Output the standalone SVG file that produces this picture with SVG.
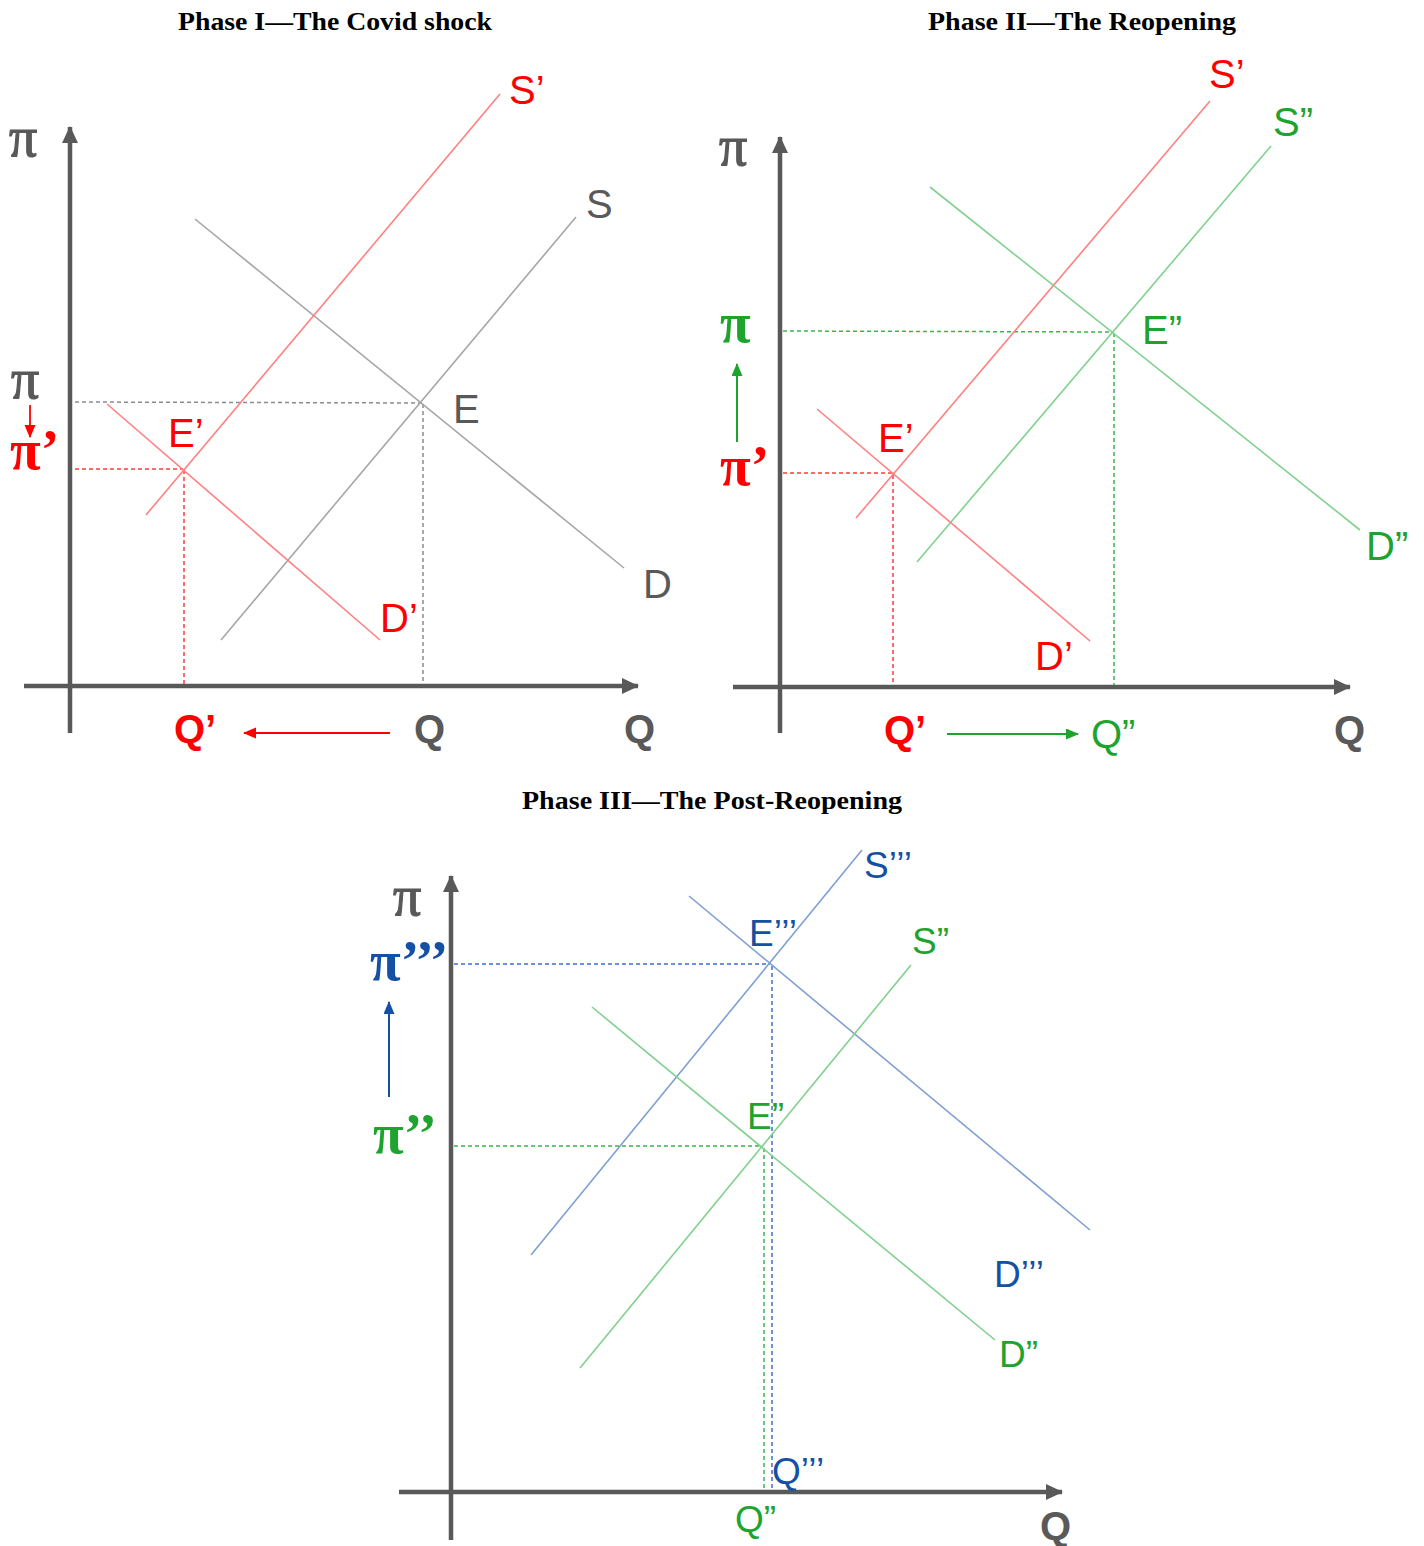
<svg xmlns="http://www.w3.org/2000/svg" width="1424" height="1546" viewBox="0 0 1424 1546">
<defs>
<marker id="axh" markerUnits="userSpaceOnUse" markerWidth="18" markerHeight="18" refX="16" refY="8" orient="auto"><path d="M0,0 L17,8 L0,16 Z" fill="#595959"/></marker>
<marker id="ar" markerUnits="userSpaceOnUse" markerWidth="14" markerHeight="12" refX="12" refY="5.5" orient="auto"><path d="M0,0 L13,5.5 L0,11 Z" fill="#ff0000"/></marker>
<marker id="ag" markerUnits="userSpaceOnUse" markerWidth="14" markerHeight="12" refX="12" refY="5.5" orient="auto"><path d="M0,0 L13,5.5 L0,11 Z" fill="#1ea32f"/></marker>
<marker id="ab" markerUnits="userSpaceOnUse" markerWidth="14" markerHeight="12" refX="12" refY="5.5" orient="auto"><path d="M0,0 L13,5.5 L0,11 Z" fill="#1450a3"/></marker>
</defs>
<style>
.title{font-family:"Liberation Serif",serif;font-weight:bold;font-size:26px;fill:#000;text-anchor:middle}
.ax{stroke:#595959;stroke-width:4.5;fill:none}
.lg{stroke:#a6a6a6;stroke-width:1.6;fill:none}
.lr{stroke:#ff8080;stroke-width:1.6;fill:none}
.lgr{stroke:#80d18e;stroke-width:1.6;fill:none}
.lb{stroke:#7e9fd4;stroke-width:1.6;fill:none}
.dg{stroke:#8c8c8c;stroke-width:1.5;stroke-dasharray:4 3;fill:none}
.dr{stroke:#ff3a3a;stroke-width:1.5;stroke-dasharray:4 3;fill:none}
.dgr{stroke:#38b54c;stroke-width:1.5;stroke-dasharray:4 3;fill:none}
.db{stroke:#3f6fc4;stroke-width:1.5;stroke-dasharray:4 3;fill:none}
.t{font-family:"Liberation Sans",Arial,sans-serif;font-size:40px}
.t3{font-family:"Liberation Sans",Arial,sans-serif;font-size:37px}
.qb{font-family:"Liberation Sans",Arial,sans-serif;font-size:40px;font-weight:bold}
.pi{font-family:"Liberation Serif",serif;font-size:56px;stroke:#595959;stroke-width:1.2}
.pib{font-family:"Liberation Serif",serif;font-size:56px;font-weight:bold}
.cg{fill:#595959}.cr{fill:#ff0000}.cgr{fill:#1ea32f}.cb{fill:#1450a3}
</style>

<text class="title" x="335" y="30" textLength="314" lengthAdjust="spacingAndGlyphs">Phase I—The Covid shock</text>
<text class="title" x="1082" y="30" textLength="308" lengthAdjust="spacingAndGlyphs">Phase II—The Reopening</text>
<text class="title" x="712" y="809" textLength="380" lengthAdjust="spacingAndGlyphs">Phase III—The Post-Reopening</text>

<!-- Phase I -->
<g id="phase1-axes">
<line class="ax" x1="70" y1="733" x2="70" y2="127" marker-end="url(#axh)"/>
<line class="ax" x1="24" y1="686" x2="638" y2="686" marker-end="url(#axh)"/>
<text class="pi cg" x="9" y="156">π</text>
<text class="qb cg" x="624" y="743">Q</text>
</g>
<g id="connectors-phase1">
<line class="dg" x1="75" y1="402" x2="421" y2="403"/>
<line class="dg" x1="423" y1="404" x2="423" y2="684"/>
<line class="dr" x1="75" y1="469" x2="183" y2="469"/>
<line class="dr" x1="184" y1="470" x2="184" y2="684"/>
<line x1="30" y1="405" x2="30" y2="437" stroke="#ff0000" stroke-width="1.8" marker-end="url(#ar)"/>
<line x1="390" y1="733" x2="244" y2="733" stroke="#ff0000" stroke-width="2" marker-end="url(#ar)"/>
</g>
<g id="p1-S"><line class="lg" x1="221" y1="640" x2="576" y2="217"/><text class="t cg" x="586" y="218">S</text></g>
<g id="p1-D"><line class="lg" x1="195" y1="219" x2="624" y2="568"/><text class="t cg" x="643" y="598">D</text></g>
<g id="p1-E"><text class="t cg" x="453" y="423">E</text></g>
<g id="p1-Sp"><line class="lr" x1="146" y1="515" x2="500" y2="94"/><text class="t cr" x="509" y="104">S’</text></g>
<g id="p1-Dp"><line class="lr" x1="107" y1="404" x2="380" y2="640"/><text class="t cr" x="380" y="632">D’</text></g>
<g id="p1-Ep"><text class="t cr" x="168" y="447">E’</text></g>
<g id="p1-labels">
<text class="pi cg" x="11" y="398">π</text>
<text class="pib cr" x="10" y="469">π’</text>
<text class="qb cr" x="174" y="743">Q’</text>
<text class="qb cg" x="414" y="743">Q</text>
</g>

<!-- Phase II -->
<g id="phase2-axes">
<line class="ax" x1="780" y1="733" x2="780" y2="137" marker-end="url(#axh)"/>
<line class="ax" x1="733" y1="687" x2="1350" y2="687" marker-end="url(#axh)"/>
<text class="pi cg" x="719" y="165">π</text>
<text class="qb cg" x="1334" y="744">Q</text>
</g>
<g id="connectors-phase2">
<line class="dgr" x1="783" y1="331" x2="1113" y2="332"/>
<line class="dgr" x1="1114" y1="333" x2="1114" y2="685"/>
<line class="dr" x1="783" y1="473" x2="893" y2="473"/>
<line class="dr" x1="893" y1="475" x2="893" y2="685"/>
<line x1="737" y1="442" x2="737" y2="364" stroke="#1ea32f" stroke-width="2" marker-end="url(#ag)"/>
<line x1="947" y1="734" x2="1078" y2="734" stroke="#1ea32f" stroke-width="2" marker-end="url(#ag)"/>
</g>
<g id="p2-Sp"><line class="lr" x1="856" y1="518" x2="1210" y2="101"/><text class="t cr" x="1209" y="88">S’</text></g>
<g id="p2-Spp"><line class="lgr" x1="917" y1="562" x2="1271" y2="146"/><text class="t cgr" x="1273" y="136">S”</text></g>
<g id="p2-Dpp"><line class="lgr" x1="930" y1="187" x2="1360" y2="530"/><text class="t cgr" x="1366" y="560">D”</text></g>
<g id="p2-Dp"><line class="lr" x1="817" y1="409" x2="1090" y2="641"/><text class="t cr" x="1035" y="670">D’</text></g>
<g id="p2-Ep"><text class="t cr" x="878" y="452">E’</text></g>
<g id="p2-Epp"><text class="t cgr" x="1142" y="344">E”</text></g>
<g id="p2-labels">
<text class="pib cgr" x="720" y="342">π</text>
<text class="pib cr" x="720" y="485">π’</text>
<text class="qb cr" x="884" y="744">Q’</text>
<text class="t cgr" x="1091" y="748">Q”</text>
</g>

<!-- Phase III -->
<g id="phase3-axes">
<line class="ax" x1="451" y1="1540" x2="451" y2="876" marker-end="url(#axh)"/>
<line class="ax" x1="399" y1="1492" x2="1062" y2="1492" marker-end="url(#axh)"/>
<text class="pi cg" x="393" y="915">π</text>
<text class="qb cg" x="1040" y="1540">Q</text>
</g>
<g id="connectors-phase3">
<line class="db" x1="454" y1="964" x2="770" y2="964"/>
<line class="db" x1="772" y1="966" x2="772" y2="1490"/>
<line class="dgr" x1="454" y1="1146" x2="762" y2="1146"/>
<line class="dgr" x1="764" y1="1148" x2="764" y2="1490"/>
<line x1="389" y1="1097" x2="389" y2="1002" stroke="#1450a3" stroke-width="2" marker-end="url(#ab)"/>
</g>
<g id="p3-Sppp"><line class="lb" x1="531" y1="1255" x2="862" y2="850"/><text class="t3 cb" x="864" y="878">S’’’</text></g>
<g id="p3-Dppp"><line class="lb" x1="689" y1="896" x2="1090" y2="1230"/><text class="t3 cb" x="994" y="1287">D’’’</text></g>
<g id="p3-Eppp"><text class="t3 cb" x="749" y="946">E’’’</text></g>
<g id="p3-Spp"><line class="lgr" x1="580" y1="1368" x2="911" y2="965"/><text class="t3 cgr" x="912" y="954">S”</text></g>
<g id="p3-Dpp"><line class="lgr" x1="592" y1="1007" x2="995" y2="1340"/><text class="t3 cgr" x="999" y="1367">D”</text></g>
<g id="p3-Epp"><text class="t3 cgr" x="747" y="1129">E”</text></g>
<g id="p3-labels">
<text class="pib cb" x="370" y="980">π’’’</text>
<text class="pib cgr" x="373" y="1153">π’’</text>
<text class="t3 cb" x="772" y="1484">Q’’’</text>
<text class="t3 cgr" x="735" y="1532">Q”</text>
</g>
</svg>
